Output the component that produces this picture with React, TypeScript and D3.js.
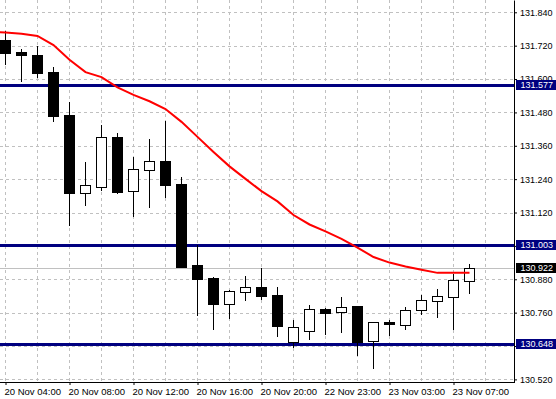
import React, { useEffect, useRef } from "react";
import * as d3 from "d3";

// hourly candles, 20 Nov 04:00 .. 23 Nov 08:00
const opens = [131.740, 131.697, 131.688, 131.625, 131.471, 131.191, 131.213, 131.391, 131.196, 131.274, 131.304, 131.222, 130.931, 130.885, 130.792, 130.835, 130.852, 130.823, 130.656, 130.695, 130.772, 130.761, 130.784, 130.657, 130.726, 130.717, 130.771, 130.803, 130.817, 130.875];
const highs = [131.773, 131.708, 131.719, 131.643, 131.519, 131.302, 131.435, 131.405, 131.319, 131.383, 131.449, 131.247, 131.003, 130.888, 130.842, 130.892, 130.922, 130.852, 130.734, 130.788, 130.776, 130.816, 130.784, 130.726, 130.734, 130.780, 130.823, 130.845, 130.899, 130.935];
const lows = [131.654, 131.593, 131.608, 131.450, 131.075, 131.147, 131.201, 131.190, 131.109, 131.140, 131.176, 130.923, 130.753, 130.701, 130.741, 130.807, 130.809, 130.676, 130.636, 130.665, 130.684, 130.690, 130.608, 130.561, 130.680, 130.701, 130.756, 130.744, 130.701, 130.832];
const closes = [131.695, 131.688, 131.623, 131.468, 131.190, 131.219, 131.391, 131.194, 131.275, 131.304, 131.220, 130.925, 130.881, 130.792, 130.838, 130.851, 130.821, 130.713, 130.707, 130.772, 130.758, 130.779, 130.654, 130.725, 130.719, 130.768, 130.804, 130.819, 130.876, 130.922];

// moving average, first value belongs to the bar before the first candle
const maStart = -1;
const maValues = [131.770, 131.767, 131.763, 131.755, 131.722, 131.669, 131.625, 131.607, 131.570, 131.543, 131.520, 131.492, 131.446, 131.392, 131.338, 131.286, 131.241, 131.197, 131.160, 131.111, 131.077, 131.052, 131.025, 130.994, 130.960, 130.940, 130.926, 130.914, 130.903, 130.903, 130.903];

const levels = [131.577, 131.003, 130.648];
const bid = 130.922;

const yTicks = [131.84, 131.72, 131.6, 131.48, 131.36, 131.24, 131.12, 131.0, 130.88, 130.76, 130.64, 130.52];
// labels hidden behind the price tags
const hiddenTicks = [131.0, 130.64];
const xTickIdx = [0, 4, 8, 12, 16, 20, 24, 28];
const xTickLabels = ["20 Nov 04:00", "20 Nov 08:00", "20 Nov 12:00", "20 Nov 16:00", "20 Nov 20:00", "22 Nov 23:00", "23 Nov 03:00", "23 Nov 07:00"];

const App = () => {
  const ref = useRef<SVGSVGElement>(null);

  useEffect(() => {
    document.body.style.margin = "0";
    const plotRight = 514;
    const plotBottom = 382;
    const font = "'Liberation Sans', Arial, sans-serif";

    const svg = d3.select(ref.current);
    svg.selectAll("*").remove();

    const x = d3.scaleLinear().domain([0, 29]).range([5.5, 469.5]);
    const y = d3.scaleLinear().domain([130.5106, 131.8842]).range([plotBottom, 0]);
    const py = (v: number) => Math.round(y(v)) + 0.5;

    svg.append("rect").attr("width", 556).attr("height", 399).attr("fill", "#fff");

    svg.append("clipPath").attr("id", "plot")
      .append("rect").attr("width", plotRight).attr("height", plotBottom);

    // grid
    const grid = svg.append("g")
      .attr("stroke", "#c0c0c0")
      .attr("stroke-dasharray", "3,3")
      .attr("shape-rendering", "crispEdges");
    grid.selectAll(".hg").data(yTicks).enter().append("line")
      .attr("x1", 0).attr("x2", plotRight)
      .attr("y1", (d) => py(d)).attr("y2", (d) => py(d));
    grid.selectAll(".vg").data(d3.range(0, 31, 2)).enter().append("line")
      .attr("x1", (d) => x(d)).attr("x2", (d) => x(d))
      .attr("y1", 0).attr("y2", plotBottom);

    const plot = svg.append("g").attr("clip-path", "url(#plot)");

    // bid line
    plot.append("line")
      .attr("x1", 0).attr("x2", plotRight)
      .attr("y1", py(bid)).attr("y2", py(bid))
      .attr("stroke", "#c0c0c0").attr("shape-rendering", "crispEdges");

    // horizontal levels
    plot.selectAll(".lvl").data(levels).enter().append("line")
      .attr("x1", 0).attr("x2", plotRight)
      .attr("y1", (d) => py(d)).attr("y2", (d) => py(d))
      .attr("stroke", "#000080").attr("stroke-width", 3)
      .attr("shape-rendering", "crispEdges");

    // candles
    const candles = plot.selectAll(".c").data(opens.map((o, i) => i)).enter().append("g")
      .attr("shape-rendering", "crispEdges");
    candles.append("line")
      .attr("x1", (i) => x(i)).attr("x2", (i) => x(i))
      .attr("y1", (i) => Math.round(y(highs[i])))
      .attr("y2", (i) => Math.round(y(lows[i])) + 1)
      .attr("stroke", "#000");
    candles.append("rect")
      .attr("x", (i) => (closes[i] >= opens[i] ? x(i) - 5 : x(i) - 5.5))
      .attr("y", (i) => {
        const top = Math.round(y(Math.max(opens[i], closes[i])));
        return closes[i] >= opens[i] ? top + 0.5 : top;
      })
      .attr("width", (i) => (closes[i] >= opens[i] ? 10 : 11))
      .attr("height", (i) => {
        const h = Math.round(y(Math.min(opens[i], closes[i]))) - Math.round(y(Math.max(opens[i], closes[i])));
        return closes[i] >= opens[i] ? Math.max(1, h) : Math.max(2, h + 1);
      })
      .attr("fill", (i) => (closes[i] >= opens[i] ? "#fff" : "#000"))
      .attr("stroke", (i) => (closes[i] >= opens[i] ? "#000" : "none"));

    // moving average
    const line = d3.line<number>()
      .x((d, i) => x(i + maStart))
      .y((d) => y(d));
    plot.append("path")
      .datum(maValues)
      .attr("d", line)
      .attr("fill", "none")
      .attr("stroke", "#ff0000")
      .attr("stroke-width", 2);

    // right axis
    const fmt = d3.format(".3f");
    const yAxis = svg.append("g")
      .attr("transform", `translate(${plotRight},0)`)
      .call(
        d3.axisRight(y)
          .tickValues(yTicks)
          .tickSize(3)
          .tickSizeOuter(0)
          .tickPadding(3)
          .tickFormat((d) => (hiddenTicks.includes(+d) ? "" : fmt(d)))
      );
    yAxis.attr("font-family", font).attr("font-size", 9);
    yAxis.selectAll("path, line").attr("stroke", "#000");
    yAxis.selectAll("text").attr("fill", "#000");

    // bottom axis
    svg.append("line")
      .attr("x1", 0).attr("x2", plotRight + 1)
      .attr("y1", plotBottom + 0.5).attr("y2", plotBottom + 0.5)
      .attr("stroke", "#000");
    const xAxis = svg.append("g")
      .attr("transform", `translate(0,${plotBottom})`)
      .call(
        d3.axisBottom(x)
          .tickValues(xTickIdx)
          .tickSize(3)
          .tickSizeOuter(0)
          .tickFormat((d, i) => xTickLabels[i])
      );
    xAxis.select(".domain").remove();
    xAxis.attr("font-family", font).attr("font-size", 9.5);
    xAxis.selectAll("line").attr("stroke", "#000");
    xAxis.selectAll("text")
      .attr("text-anchor", "start")
      .attr("x", -1.5)
      .attr("y", 13)
      .attr("dy", null)
      .attr("fill", "#000");

    // price labels
    const boxes = [
      ...levels.map((v) => ({ v, color: "#000080" })),
      { v: bid, color: "#000" },
    ];
    const tags = svg.selectAll(".tag").data(boxes).enter().append("g");
    tags.append("rect")
      .attr("x", plotRight + 2)
      .attr("y", (d) => Math.round(y(d.v)) - 5)
      .attr("width", 40)
      .attr("height", 10)
      .attr("fill", (d) => d.color);
    tags.append("text")
      .attr("x", 520.5)
      .attr("y", (d) => y(d.v))
      .attr("dy", "0.34em")
      .attr("font-family", font)
      .attr("font-size", 9)
      .attr("fill", "#fff")
      .text((d) => d.v.toFixed(3));
  }, []);

  return (
    <svg
      ref={ref}
      width={556}
      height={399}
      style={{ position: "absolute", left: 0, top: 0, display: "block" }}
    />
  );
};

export default App;
